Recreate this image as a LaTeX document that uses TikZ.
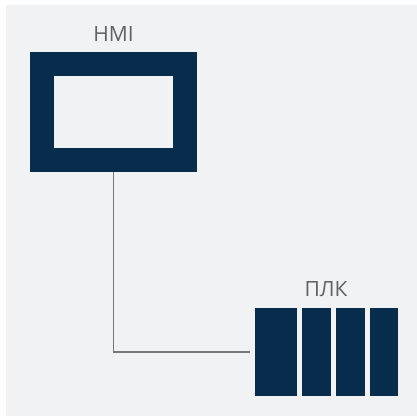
\documentclass[tikz,border=0pt]{standalone}
\usepackage{fontspec}
\setmainfont{Open Sans}
\definecolor{navy}{HTML}{082D4C}
\definecolor{bg}{HTML}{F1F2F4}
\definecolor{lbl}{HTML}{5F6163}
\definecolor{wire}{HTML}{77787A}
\begin{document}
\begin{tikzpicture}[x=1pt,y=-1pt,
  lab/.style={font=\fontsize{21}{24}\selectfont, text=lbl, inner sep=0pt},
  frame/.style={draw=navy, line width=24pt, fill=bg, inner sep=0pt},
  bar/.style={fill=navy, draw=none, inner sep=0pt},
  wireline/.style={draw=wire, line width=1.1pt}]
\useasboundingbox (0,0) rectangle (417,416);
\fill[white] (0,0) rectangle (417,416);
\fill[bg] (6,5) rectangle (417,416);
% HMI
\node[frame, minimum width=143pt, minimum height=96pt] (hmi) at (113.5,112) {};
\node[lab] (hmilabel) at (113.5,34) {HMI};
% PLC bars
\node[bar, minimum width=42pt, minimum height=88pt] (b1) at (276,352) {};
\node[bar, minimum width=29pt, minimum height=88pt] (b2) at (316.5,352) {};
\node[bar, minimum width=29pt, minimum height=88pt] (b3) at (350.5,352) {};
\node[bar, minimum width=28pt, minimum height=88pt] (b4) at (384,352) {};
\node[lab] (plclabel) at (326,289) {ПЛК};
% connector
\coordinate (wend) at ([xshift=-5pt]b1.west);
\draw[wireline] (hmi.south) |- (wend);
\end{tikzpicture}
\end{document}
